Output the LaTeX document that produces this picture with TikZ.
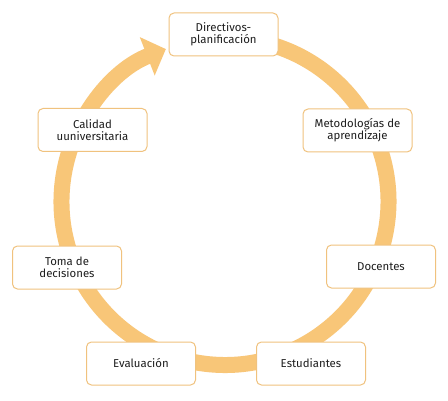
\documentclass[tikz,border=0pt]{standalone}
\usepackage{fontspec}
\setmainfont{Fira Sans}
\usetikzlibrary{arrows.meta}
\definecolor{ring}{HTML}{F8C678}
\definecolor{boxline}{HTML}{F0C27E}
\definecolor{txt}{HTML}{1E1E1E}
\tikzset{
  stagebox/.style={draw=boxline, line width=1pt, fill=white, rounded corners=5pt,
    minimum width=109pt, minimum height=43pt, align=center, text=txt,
    font=\fontsize{11.4pt}{12pt}\selectfont, inner sep=2pt},
}
\begin{document}
\begin{tikzpicture}[x=1pt,y=1pt]
\useasboundingbox (0,0) rectangle (448,400);
\fill[white] (0,0) rectangle (448,400);
\draw[ring, line width=16pt, -{Triangle[width=40pt,length=20pt]}]
  (225,198.5) ++(80:163.5) arc[start angle=80, end angle=-248.8, radius=163.5];
\node[stagebox] (dir) at (223.5,365.5) {Directivos-\\planificación};
\node[stagebox] (cal) at (92.5,270) {Calidad\\uuniversitaria};
\node[stagebox] (met) at (357.5,269.5) {Metodologías de\\aprendizaje};
\node[stagebox] (toma) at (67,132.5) {Toma de\\decisiones};
\node[stagebox] (doc) at (381,133.5) {Docentes};
\node[stagebox] (eva) at (141,36.5) {Evaluación};
\node[stagebox] (est) at (311,36.5) {Estudiantes};
\end{tikzpicture}
\end{document}
